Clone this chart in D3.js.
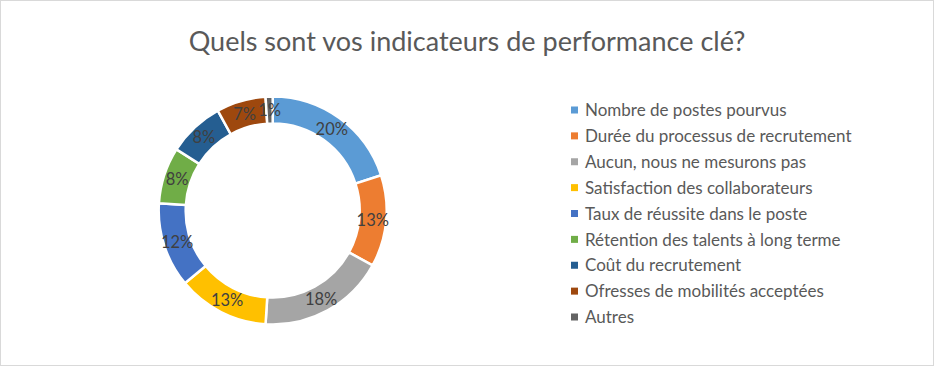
<!DOCTYPE html>
<html><head><meta charset="utf-8">
<script src="https://cdn.jsdelivr.net/npm/d3@7/dist/d3.min.js"></script>
<style>body{margin:0;background:#fff}svg{display:block}</style>
</head><body>
<svg id="c" width="934" height="366"></svg>
<script>
const categories = ["Nombre de postes pourvus","Durée du processus de recrutement","Aucun, nous ne mesurons pas","Satisfaction des collaborateurs","Taux de réussite dans le poste","Rétention des talents à long terme","Coût du recrutement","Ofresses de mobilités acceptées","Autres"];
const values = [20,13,18,13,12,8,8,7,1];
const colors = ["#5B9BD5","#ED7D31","#A5A5A5","#FFC000","#4472C4","#70AD47","#255E91","#9E480E","#636363"];
const title = "Quels sont vos indicateurs de performance clé?";

const svg = d3.select("#c");
const font = "Lato, 'Open Sans', sans-serif";
svg.append("rect").attr("x",0.5).attr("y",0.5).attr("width",933).attr("height",365)
  .attr("fill","#fff").attr("stroke","#d9d9d9");

svg.append("text").attr("x",467).attr("y",51).attr("text-anchor","middle")
  .attr("font-family",font).attr("font-size",27).attr("fill","#595959").text(title);

const cx=272.7, cy=210.5, rO=114, rI=87;
const data = categories.map((c,i)=>({c, v:values[i], col:colors[i]}));
const pie = d3.pie().value(d=>d.v).sort(null);
const arc = d3.arc().innerRadius(rI).outerRadius(rO);
const lab = d3.arc().innerRadius((rI+rO)/2).outerRadius((rI+rO)/2);
const g = svg.append("g").attr("transform",`translate(${cx},${cy})`);
const arcs = pie(data);
g.selectAll("path").data(arcs).join("path").attr("d",arc)
  .attr("fill",d=>d.data.col).attr("stroke","#fff").attr("stroke-width",2.5);
g.selectAll("text").data(arcs).join("text")
  .attr("transform",d=>`translate(${lab.centroid(d)})`)
  .attr("text-anchor","middle").attr("dy","0.36em")
  .attr("font-family",font).attr("font-size",16.5).attr("fill","#404040")
  .text(d=>d.data.v+"%");

const y = d3.scalePoint().domain(categories).range([110,317]);
const lg = svg.append("g");
const rows = lg.selectAll("g").data(data).join("g").attr("transform",d=>`translate(0,${y(d.c)})`);
rows.append("rect").attr("x",571).attr("y",-3.5).attr("width",7).attr("height",7).attr("fill",d=>d.col);
rows.append("text").attr("x",585).attr("dy","0.36em").attr("font-family",font).attr("font-size",17)
  .attr("fill","#595959").text(d=>d.c);
</script>
</body></html>
